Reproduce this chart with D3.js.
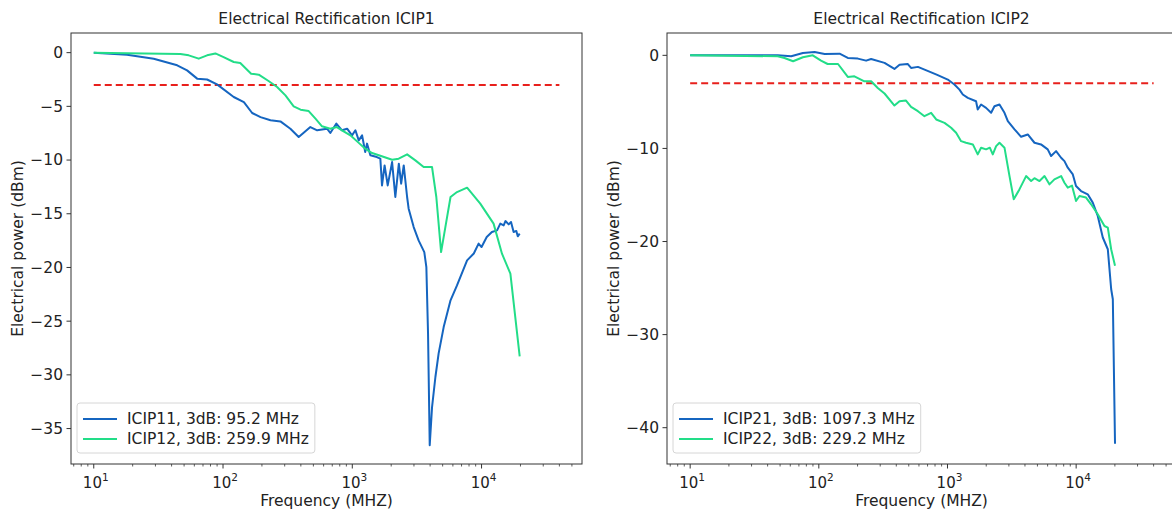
<!DOCTYPE html>
<html>
<head>
<meta charset="utf-8">
<script src="https://cdn.jsdelivr.net/npm/d3@7"></script>
<style>
  body { margin: 0; background: #fff; }
  svg { font-family: "DejaVu Sans", sans-serif; }
</style>
</head>
<body>
<div id="chart"></div>
<script>
// frequency in MHz, power in dBm
const icip11Freq = [10, 18.1, 29.1, 44.2, 52.7, 63.1, 75.3, 89.9, 121, 145, 168, 195, 233, 278, 332, 385, 474, 535, 638, 676, 753, 832, 912, 995, 1057, 1122, 1191, 1259, 1300, 1380, 1549, 1648, 1698, 1778, 1879, 2032, 2153, 2291, 2388, 2500, 2655, 2729, 2985, 3258, 3606, 3741, 3855, 3972, 4140, 4395, 4656, 5093, 5754, 6457, 7727, 8710, 9484, 10000, 10965, 12023, 13183, 13964, 14825, 15300, 16218, 16904, 17701, 18578, 19055, 19724];
const icip11Power = [0, -0.19, -0.56, -1.18, -1.65, -2.42, -2.5, -2.95, -4.13, -4.6, -5.62, -6.0, -6.3, -6.4, -7.08, -7.86, -6.93, -7.23, -7.08, -7.48, -6.6, -7.23, -7.08, -7.7, -7.23, -8.17, -7.7, -9.25, -8.47, -9.56, -9.72, -9.87, -12.36, -10.5, -12.36, -10.19, -13.44, -10.34, -12.2, -10.5, -13.44, -14.53, -16.24, -17.48, -18.57, -19.96, -26.2, -36.56, -33.0, -30.2, -28.0, -25.55, -23.06, -21.67, -19.34, -18.7, -17.78, -18.1, -17.17, -16.7, -16.55, -15.92, -16.08, -15.68, -15.99, -15.77, -16.7, -16.6, -17.1, -16.85];

const icip12Freq = [10, 18.1, 46.8, 54.3, 64.9, 75.3, 87.3, 101, 121, 136, 165, 189, 225, 262, 304, 352, 398, 460, 519, 583, 676, 759, 851, 966, 1122, 1259, 1422, 1648, 2032, 2286, 2655, 3076, 3565, 4140, 4467, 4864, 5248, 5754, 6457, 7727, 9772, 12388, 14388, 16711, 19724];
const icip12Power = [0, -0.06, -0.12, -0.25, -0.56, -0.25, -0.07, -0.41, -0.87, -0.97, -1.96, -2.05, -2.64, -3.2, -3.98, -5.0, -5.31, -5.44, -6.15, -6.86, -7.08, -6.93, -7.3, -7.7, -8.4, -8.94, -9.35, -9.6, -9.97, -9.87, -9.47, -10.03, -10.65, -10.65, -13.44, -18.57, -16.24, -13.44, -12.98, -12.57, -14.06, -15.92, -18.72, -20.58, -28.28];

const icip21Freq = [10, 47.9, 61, 75.2, 92.7, 111, 145, 168, 201, 233, 255, 324, 387, 424, 490, 521, 589, 708, 832, 1005, 1132, 1239, 1315, 1439, 1667, 1718, 1824, 1995, 2183, 2317, 2535, 2773, 2944, 3319, 3733, 4207, 4742, 5333, 6012, 6383, 6982, 7638, 8110, 8610, 9419, 9977, 10914, 12303, 13459, 14723, 16106, 17620, 18707, 19275, 20045];
const icip21Power = [0, 0, -0.1, 0.26, 0.36, 0.15, 0.18, -0.28, -0.35, -0.57, -0.39, -0.81, -1.46, -1.0, -0.92, -1.35, -1.24, -1.7, -2.1, -2.6, -3.14, -3.68, -4.21, -4.57, -4.93, -5.82, -5.28, -5.64, -6.17, -5.47, -5.28, -6.17, -7.07, -7.96, -8.75, -8.5, -9.39, -9.57, -10.1, -10.82, -10.29, -11.0, -11.36, -12.07, -12.79, -14.04, -14.58, -14.93, -15.82, -17.26, -19.57, -20.83, -25.1, -26.2, -41.72];

const icip22Freq = [10, 47.9, 54.1, 63.1, 75.2, 89.7, 104, 117, 141, 168, 189, 226, 255, 287, 324, 387, 424, 476, 521, 589, 662, 746, 817, 948, 1067, 1167, 1276, 1393, 1574, 1718, 1824, 1995, 2133, 2249, 2388, 2535, 2773, 3034, 3273, 3622, 4083, 4467, 4742, 5188, 5675, 6194, 6776, 7638, 8110, 8610, 9290, 9977, 10617, 11940, 13062, 14723, 16596, 17620, 18707, 20045];
const icip22Power = [0, -0.1, -0.28, -0.64, -0.21, 0, -0.57, -0.93, -0.93, -2.32, -2.25, -2.79, -2.79, -3.5, -4.1, -5.39, -4.93, -4.86, -5.53, -6.0, -6.54, -6.17, -6.89, -7.25, -7.78, -8.32, -9.22, -9.39, -9.57, -10.64, -9.92, -10.1, -9.92, -10.64, -9.75, -9.39, -9.92, -12.97, -15.47, -14.4, -12.97, -13.5, -13.2, -13.5, -12.97, -13.86, -13.32, -12.97, -13.68, -14.21, -14.0, -15.65, -15.11, -15.28, -16.0, -17.07, -18.33, -18.5, -20.83, -22.6];

const threshold = -3;
const thresholdRange = [10, 40000];
const panelTitles = ["Electrical Rectification ICIP1", "Electrical Rectification ICIP2"];
const legend1 = ["ICIP11, 3dB: 95.2 MHz", "ICIP12, 3dB: 259.9 MHz"];
const legend2 = ["ICIP21, 3dB: 1097.3 MHz", "ICIP22, 3dB: 229.2 MHz"];
const yTicks1 = [0, -5, -10, -15, -20, -25, -30, -35];
const yTicks2 = [0, -10, -20, -30, -40];
const xTicks = [10, 100, 1000, 10000];

const BLUE = "#1565c0";
const GREEN = "#22dd88";
const FS = "15.5px";
const fmtMinus = (v) => (v < 0 ? "\u2212" + Math.abs(v) : "" + v);

const svg = d3.select("#chart").append("svg")
  .attr("width", 1172)
  .attr("height", 510);

function drawPanel(p) {
  const g = svg.append("g");
  const x = d3.scaleLog().domain(p.xDomain).range([p.left, p.right]);
  const y = d3.scaleLinear().domain(p.yDomain).range([p.bottom, p.top]);

  // minor log ticks
  const minors = [];
  for (let e = 0; e <= 4; e++) {
    for (let m = 2; m <= 9; m++) {
      const v = m * Math.pow(10, e);
      if (v > p.xDomain[0] && v < p.xDomain[1]) minors.push(v);
    }
  }
  g.append("g").selectAll("line").data(minors).enter().append("line")
    .attr("x1", (d) => x(d)).attr("x2", (d) => x(d))
    .attr("y1", p.bottom).attr("y2", p.bottom + 2.5)
    .attr("stroke", "#333").attr("stroke-width", 0.8);

  g.append("g").selectAll("line").data(xTicks).enter().append("line")
    .attr("x1", (d) => x(d)).attr("x2", (d) => x(d))
    .attr("y1", p.bottom).attr("y2", p.bottom + 4.5)
    .attr("stroke", "#333").attr("stroke-width", 1);

  const xl = g.append("g").selectAll("text").data(xTicks).enter().append("text")
    .attr("x", (d) => x(d) + 2).attr("y", p.bottom + 24)
    .attr("text-anchor", "middle")
    .style("font-size", "15px").style("fill", "#222");
  xl.append("tspan").text("10");
  xl.append("tspan").attr("dy", -7).style("font-size", "10.5px")
    .text((d) => Math.round(Math.log10(d)));

  g.append("g").selectAll("line").data(p.yTicks).enter().append("line")
    .attr("x1", p.left - 4.5).attr("x2", p.left)
    .attr("y1", (d) => y(d)).attr("y2", (d) => y(d))
    .attr("stroke", "#333").attr("stroke-width", 1);
  g.append("g").selectAll("text").data(p.yTicks).enter().append("text")
    .attr("x", p.left - 8).attr("y", (d) => y(d)).attr("dy", "0.35em")
    .attr("text-anchor", "end")
    .style("font-size", FS).style("fill", "#222")
    .text(fmtMinus);

  // data
  const line = d3.line().x((d) => x(d[0])).y((d) => y(d[1]));
  const clip = "clip" + p.id;
  svg.append("clipPath").attr("id", clip).append("rect")
    .attr("x", p.left).attr("y", p.top)
    .attr("width", p.right - p.left).attr("height", p.bottom - p.top);

  const plot = g.append("g").attr("clip-path", `url(#${clip})`);
  plot.append("path")
    .datum(thresholdRange.map((f) => [f, threshold]))
    .attr("fill", "none").attr("stroke", "#e8201c")
    .attr("stroke-width", 2).attr("stroke-dasharray", "7,4")
    .attr("d", line);
  p.series.forEach((s) => {
    plot.append("path")
      .datum(s.freq.map((f, i) => [f, s.power[i]]))
      .attr("fill", "none").attr("stroke", s.color)
      .attr("stroke-width", 2).attr("stroke-linejoin", "round")
      .attr("d", line);
  });

  g.append("rect")
    .attr("x", p.left).attr("y", p.top)
    .attr("width", p.right - p.left).attr("height", p.bottom - p.top)
    .attr("fill", "none").attr("stroke", "#333").attr("stroke-width", 1);

  const cx = (p.left + p.right) / 2;
  g.append("text")
    .attr("x", cx).attr("y", 24).attr("text-anchor", "middle")
    .style("font-size", FS).style("fill", "#222")
    .text(p.title);
  g.append("text")
    .attr("x", cx).attr("y", p.bottom + 42).attr("text-anchor", "middle")
    .style("font-size", FS).style("fill", "#222")
    .text("Frequency (MHZ)");
  g.append("text")
    .attr("transform", `translate(${p.left - 48},${(p.top + p.bottom) / 2}) rotate(-90)`)
    .attr("text-anchor", "middle")
    .style("font-size", FS).style("fill", "#222")
    .text("Electrical power (dBm)");

  // legend
  const lg = g.append("g");
  const box = lg.append("rect")
    .attr("x", p.left + 6).attr("y", p.bottom - 61)
    .attr("rx", 3).attr("height", 50)
    .attr("fill", "#fff").attr("fill-opacity", 0.85)
    .attr("stroke", "#d6d6d6").attr("stroke-width", 1);
  let maxW = 0;
  p.series.forEach((s, i) => {
    const ly = p.bottom - 45 + i * 20;
    lg.append("line")
      .attr("x1", p.left + 12).attr("x2", p.left + 46)
      .attr("y1", ly).attr("y2", ly)
      .attr("stroke", s.color).attr("stroke-width", 2);
    const t = lg.append("text")
      .attr("x", p.left + 56).attr("y", ly).attr("dy", "0.35em")
      .style("font-size", FS).style("fill", "#222")
      .text(s.label);
    maxW = Math.max(maxW, t.node().getComputedTextLength());
  });
  box.attr("width", 50 + maxW + 6);
}

drawPanel({
  id: 1, title: panelTitles[0],
  left: 71, right: 582, top: 33, bottom: 464,
  xDomain: [Math.pow(10, 0.824), Math.pow(10, 4.777)],
  yDomain: [-38.3, 1.83], yTicks: yTicks1,
  series: [
    { freq: icip11Freq, power: icip11Power, color: BLUE, label: legend1[0] },
    { freq: icip12Freq, power: icip12Power, color: GREEN, label: legend1[1] },
  ],
});

drawPanel({
  id: 2, title: panelTitles[1],
  left: 667, right: 1176, top: 33, bottom: 464,
  xDomain: [Math.pow(10, 0.82), Math.pow(10, 4.776)],
  yDomain: [-43.9, 2.4], yTicks: yTicks2,
  series: [
    { freq: icip21Freq, power: icip21Power, color: BLUE, label: legend2[0] },
    { freq: icip22Freq, power: icip22Power, color: GREEN, label: legend2[1] },
  ],
});
</script>
</body>
</html>
